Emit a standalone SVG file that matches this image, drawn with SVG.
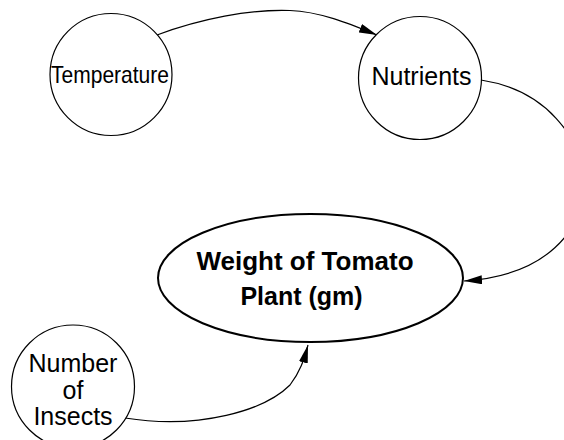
<svg xmlns="http://www.w3.org/2000/svg" width="564" height="440" viewBox="0 0 564 440">
<style>
.node{fill:#fff;stroke:#000;stroke-width:1.2}
.main{fill:#fff;stroke:#000;stroke-width:2}
.lbl{font-family:"Liberation Sans",Arial,sans-serif;font-size:25px;fill:#000;text-anchor:middle}
.bold{font-weight:bold}
.edge{fill:none;stroke:#000;stroke-width:1.2}
</style>
<defs>
<marker id="arr" markerUnits="userSpaceOnUse" markerWidth="20" markerHeight="10" refX="18" refY="4.5" orient="auto">
<path d="M0,0 L18,4.5 L0,9 z" fill="#000"/>
</marker>
</defs>
<rect width="564" height="440" fill="#fff"/>
<g id="connectors">
<path class="edge" d="M157,35 C200,19 250,9 290,10.5 C320,11.5 350,24 377,35" marker-end="url(#arr)"/>
<path class="edge" d="M481,80 C610,100 630,270 464,281" marker-end="url(#arr)"/>
<path class="edge" d="M125,418 C200,430 265,410 290,385 C300,372 304,360 308,345" marker-end="url(#arr)"/>
</g>
<g id="temperature">
<circle class="node" cx="111" cy="74.5" r="61"/>
<text class="lbl" x="110" y="83" style="font-size:24px" textLength="118" lengthAdjust="spacingAndGlyphs">Temperature</text>
</g>
<g id="nutrients">
<circle class="node" cx="420" cy="78" r="61.5"/>
<text class="lbl" x="421.5" y="84.5">Nutrients</text>
</g>
<g id="weight">
<ellipse class="main" cx="310.5" cy="278" rx="152.5" ry="64"/>
<text class="lbl bold" x="305" y="269.5" textLength="217" lengthAdjust="spacingAndGlyphs">Weight of Tomato</text>
<text class="lbl bold" x="301.5" y="305">Plant (gm)</text>
</g>
<g id="insects">
<circle class="node" cx="73" cy="386.5" r="61.5"/>
<text class="lbl" x="73" y="372">Number</text>
<text class="lbl" x="73" y="399">of</text>
<text class="lbl" x="73" y="425">Insects</text>
</g>
</svg>
